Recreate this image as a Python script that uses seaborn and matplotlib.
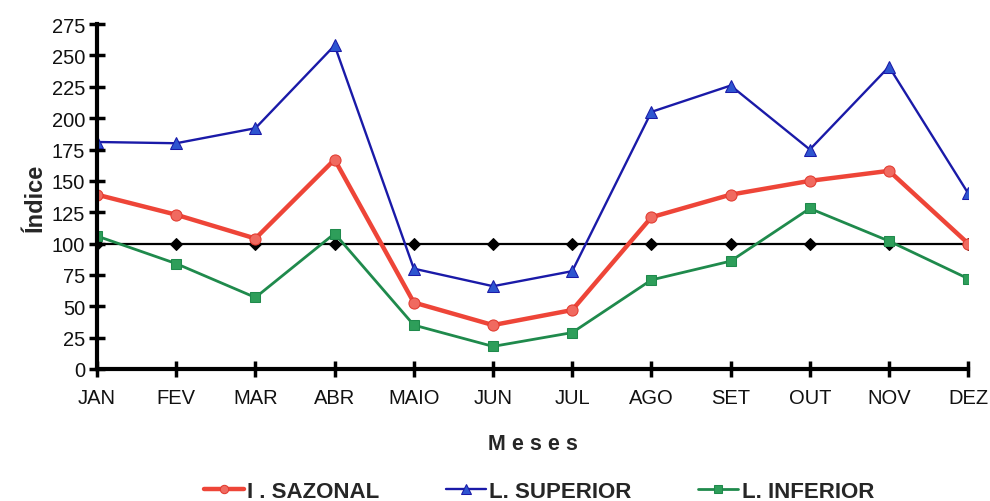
import matplotlib
matplotlib.use("Agg")
import matplotlib.pyplot as plt
import seaborn as sns
import pandas as pd

meses = ["JAN", "FEV", "MAR", "ABR", "MAIO", "JUN", "JUL", "AGO", "SET", "OUT", "NOV", "DEZ"]
indice_sazonal = [139, 123, 104, 167, 53, 35, 47, 121, 139, 150, 158, 100]
limite_superior = [181, 180, 192, 258, 80, 66, 78, 205, 226, 175, 241, 140]
limite_inferior = [106, 84, 57, 108, 35, 18, 29, 71, 86, 128, 102, 72]
referencia = [100] * 12
yticks = list(range(0, 276, 25))

sns.set_theme(style="white")
plt.rcParams["font.family"] = ["Liberation Sans", "DejaVu Sans"]

fig = plt.figure(figsize=(9.9, 5.02), dpi=100)
ax = fig.add_axes([0.098, 0.263, 0.880, 0.687])

df = pd.DataFrame({
    "mes": meses,
    "ref": referencia,
    "sup": limite_superior,
    "saz": indice_sazonal,
    "inf": limite_inferior,
})
df["pos"] = range(len(meses))

sns.lineplot(data=df, x="pos", y="ref", ax=ax, color="black", lw=1.6,
             marker="D", markersize=6, markeredgecolor="black", label="_ref")
sns.lineplot(data=df, x="pos", y="inf", ax=ax, color="#1f8a4c", lw=2.0,
             marker="s", markersize=7, markerfacecolor="#2e9e5a",
             markeredgecolor="#1f8a4c", label="L. INFERIOR")
sns.lineplot(data=df, x="pos", y="sup", ax=ax, color="#1a1aa8", lw=1.7,
             marker="^", markersize=9, markerfacecolor="#2e55d0",
             markeredgecolor="#1a1aa8", label="L. SUPERIOR")
sns.lineplot(data=df, x="pos", y="saz", ax=ax, color="#ee4538", lw=3.2,
             marker="o", markersize=8, markerfacecolor="#f06a60",
             markeredgecolor="#e23b30", label="I . SAZONAL")

ax.set_xlim(0, len(meses) - 1)
ax.set_ylim(0, 275)
ax.set_xticks(range(len(meses)))
ax.set_xticklabels(meses)
ax.set_yticks(yticks)
ax.set_yticklabels([str(t) for t in yticks])

for side in ("top", "right"):
    ax.spines[side].set_visible(False)
for side in ("left", "bottom"):
    ax.spines[side].set_linewidth(3)
    ax.spines[side].set_color("black")
ax.tick_params(axis="both", which="major", bottom=True, left=True,
               direction="inout", length=11, width=2.5,
               color="black", labelsize=14.5, labelcolor="#111111", pad=3)
ax.tick_params(axis="x", pad=8)

ax.set_xlabel("M e s e s", fontsize=15.5, fontweight="bold", labelpad=19)
ax.set_ylabel("Índice", fontsize=17, fontweight="bold", labelpad=4)

handles, labels = ax.get_legend_handles_labels()
order = {"I . SAZONAL": 0, "L. SUPERIOR": 1, "L. INFERIOR": 2}
pairs = sorted([(h, l) for h, l in zip(handles, labels) if l in order],
               key=lambda p: order[p[1]])
ax.legend([p[0] for p in pairs], [p[1] for p in pairs], loc="center",
          bbox_to_anchor=(0.507, -0.355), ncol=3, frameon=False,
          prop={"weight": "bold", "size": 16}, handlelength=1.8,
          handletextpad=0.15, columnspacing=3.0, markerscale=0.75,
          borderpad=0)

fig.savefig("out.png", dpi=100, facecolor="white")
